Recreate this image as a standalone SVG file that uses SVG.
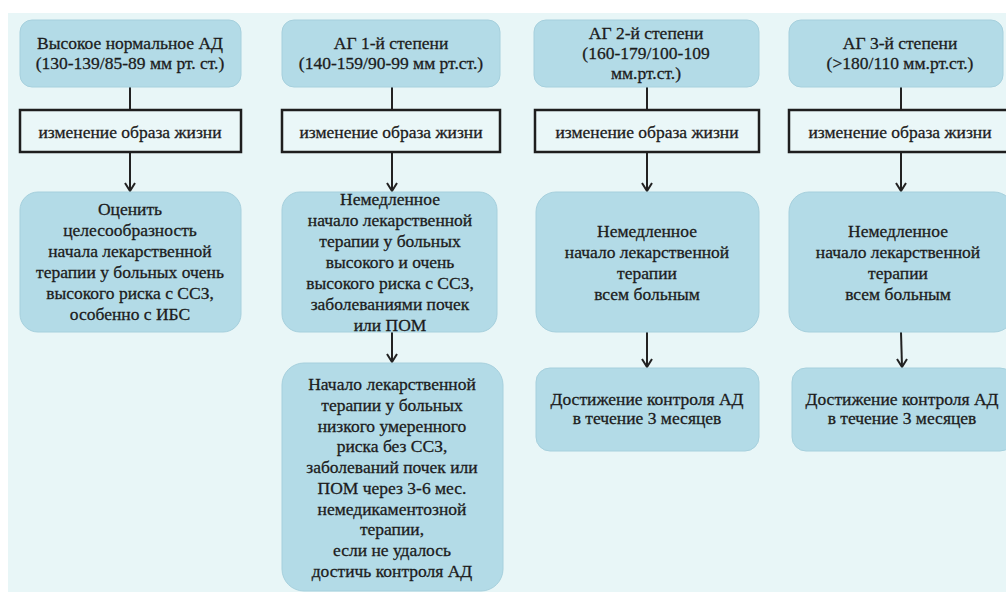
<svg xmlns="http://www.w3.org/2000/svg" width="1006" height="592" viewBox="0 0 1006 592">
<defs>
<marker id="arrd" viewBox="0 0 12 10" refX="6" refY="9" markerWidth="12" markerHeight="10" markerUnits="userSpaceOnUse" orient="0">
<path d="M1,1 L6,9 L11,1" fill="none" stroke="#222" stroke-width="2"/>
</marker>
</defs>
<style>
.bg{fill:#e8f6f7}
.nb{fill:#b3dbe7;stroke:#a6d0dd;stroke-width:1}
.lb{fill:#eaf7f8;stroke:#1e1e1e;stroke-width:2.5}
text{font-family:"Liberation Serif","DejaVu Serif",serif;font-size:17.5px;fill:#1c1c1c;stroke:#1c1c1c;stroke-width:0.3;text-anchor:middle}
.c{stroke:#222;stroke-width:2;fill:none}
</style>
<rect x="0" y="0" width="1006" height="592" fill="#ffffff"/>
<rect class="bg" x="8" y="13" width="998" height="579"/>

<g id="connectors">
<line class="c" x1="130" y1="87" x2="130" y2="110"/>
<line class="c" x1="130" y1="153" x2="130" y2="191" marker-end="url(#arrd)"/>
<line class="c" x1="392" y1="87" x2="392" y2="110"/>
<line class="c" x1="392" y1="153" x2="392" y2="191" marker-end="url(#arrd)"/>
<line class="c" x1="392" y1="332" x2="392" y2="362" marker-end="url(#arrd)"/>
<line class="c" x1="647" y1="87" x2="647" y2="110"/>
<line class="c" x1="647" y1="153" x2="647" y2="191" marker-end="url(#arrd)"/>
<line class="c" x1="647" y1="332" x2="647" y2="367" marker-end="url(#arrd)"/>
<line class="c" x1="901" y1="87" x2="901" y2="110"/>
<line class="c" x1="901" y1="153" x2="901" y2="191" marker-end="url(#arrd)"/>
<line class="c" x1="901" y1="332" x2="902" y2="367" marker-end="url(#arrd)"/>
</g>

<g id="n1a">
<rect class="nb" x="20" y="20" width="221" height="67" rx="12"/>
<text x="130" y="49">Высокое нормальное АД</text>
<text x="130" y="69">(130-139/85-89 мм рт. ст.)</text>
</g>
<g id="n1b">
<rect class="lb" x="20" y="110" width="221" height="42"/>
<text x="130" y="138">изменение образа жизни</text>
</g>
<g id="n1c">
<rect class="nb" x="20" y="192" width="221" height="140" rx="18"/>
<text x="130" y="215">Оценить</text>
<text x="130" y="236">целесообразность</text>
<text x="130" y="257">начала лекарственной</text>
<text x="130" y="278">терапии у больных очень</text>
<text x="130" y="299">высокого риска с ССЗ,</text>
<text x="130" y="320">особенно с ИБС</text>
</g>

<g id="n2a">
<rect class="nb" x="282" y="20" width="218" height="67" rx="12"/>
<text x="391" y="49">АГ 1-й степени</text>
<text x="391" y="69">(140-159/90-99 мм рт.ст.)</text>
</g>
<g id="n2b">
<rect class="lb" x="282" y="110" width="218" height="42"/>
<text x="391" y="138">изменение образа жизни</text>
</g>
<g id="n2c">
<rect class="nb" x="282" y="192" width="215" height="140" rx="18"/>
<text x="390" y="205">Немедленное</text>
<text x="390" y="226">начало лекарственной</text>
<text x="390" y="247">терапии у больных</text>
<text x="390" y="268">высокого и очень</text>
<text x="390" y="289">высокого риска с ССЗ,</text>
<text x="390" y="310">заболеваниями почек</text>
<text x="390" y="331">или ПОМ</text>
</g>
<g id="n2d">
<rect class="nb" x="282" y="363" width="221" height="228" rx="22"/>
<text x="392" y="390">Начало лекарственной</text>
<text x="392" y="411">терапии у больных</text>
<text x="392" y="432">низкого умеренного</text>
<text x="392" y="452">риска без ССЗ,</text>
<text x="392" y="473">заболеваний почек или</text>
<text x="392" y="494">ПОМ через 3-6 мес.</text>
<text x="392" y="515">немедикаментозной</text>
<text x="392" y="535">терапии,</text>
<text x="392" y="556">если не удалось</text>
<text x="392" y="577">достичь контроля АД</text>
</g>

<g id="n3a">
<rect class="nb" x="534" y="20" width="225" height="67" rx="12"/>
<text x="646" y="39">АГ 2-й степени</text>
<text x="646" y="59">(160-179/100-109</text>
<text x="646" y="79">мм.рт.ст.)</text>
</g>
<g id="n3b">
<rect class="lb" x="535" y="110" width="224" height="42"/>
<text x="647" y="138">изменение образа жизни</text>
</g>
<g id="n3c">
<rect class="nb" x="536" y="192" width="223" height="140" rx="20"/>
<text x="647" y="237">Немедленное</text>
<text x="647" y="258">начало лекарственной</text>
<text x="647" y="279">терапии</text>
<text x="647" y="300">всем больным</text>
</g>
<g id="n3d">
<rect class="nb" x="536" y="368" width="223" height="83" rx="14"/>
<text x="647" y="405">Достижение контроля АД</text>
<text x="647" y="424">в течение 3 месяцев</text>
</g>

<g id="n4a">
<rect class="nb" x="789" y="20" width="214" height="67" rx="12"/>
<text x="900" y="49">АГ 3-й степени</text>
<text x="900" y="69">(&gt;180/110 мм.рт.ст.)</text>
</g>
<g id="n4b">
<rect class="lb" x="789" y="110" width="220" height="42"/>
<text x="900" y="138">изменение образа жизни</text>
</g>
<g id="n4c">
<rect class="nb" x="789" y="192" width="225" height="140" rx="20"/>
<text x="898" y="237">Немедленное</text>
<text x="898" y="258">начало лекарственной</text>
<text x="898" y="279">терапии</text>
<text x="898" y="300">всем больным</text>
</g>
<g id="n4d">
<rect class="nb" x="792" y="368" width="222" height="83" rx="14"/>
<text x="902" y="405">Достижение контроля АД</text>
<text x="902" y="424">в течение 3 месяцев</text>
</g>
</svg>
